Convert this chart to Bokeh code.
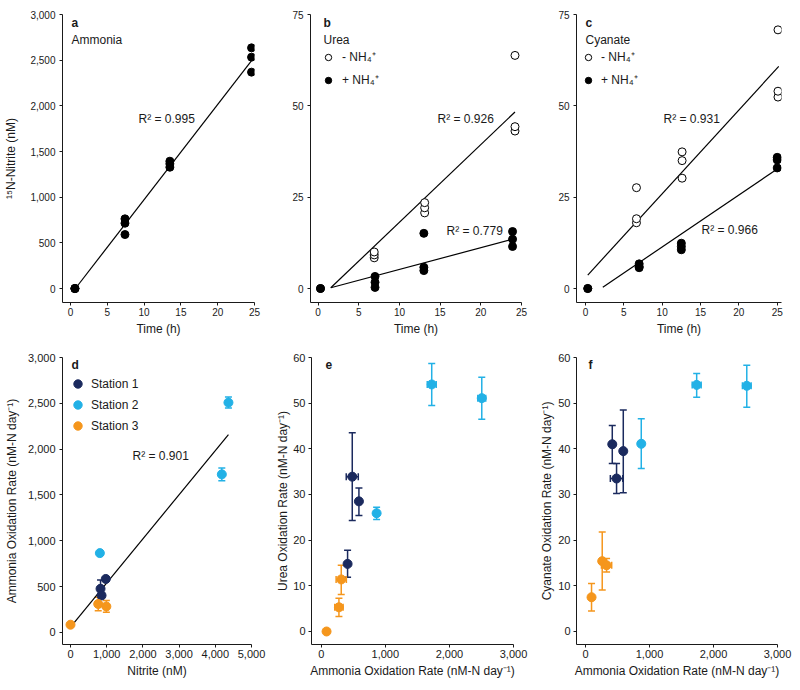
import numpy as np
from bokeh.plotting import figure
from bokeh.layouts import column, row
from bokeh.models import (Range1d, FixedTicker, NumeralTickFormatter, Label, Legend,
                          LegendItem, Whisker, TeeHead, ColumnDataSource)
from bokeh.embed import file_html
from bokeh.resources import INLINE

FONT = "Liberation Sans"
INK = "#1a1a1a"
C1, C2, C3 = "#1b2a5e", "#22b1e6", "#f5961c"

# ---------------- data ----------------
time_ticks = [0, 5, 10, 15, 20, 25]

# a: Ammonia
a_time = [0.6, 0.6, 0.6, 7.4, 7.4, 7.4, 13.5, 13.5, 13.5, 24.6, 24.6, 24.6]
a_nitrite = [0, 0, 0, 763, 715, 591, 1394, 1365, 1328, 2635, 2533, 2369]
a_fit = [104.2, -68.8, 0.9, 24.55]          # slope, intercept, x0, x1
a_r2 = "R² = 0.995"

# b: Urea
b_minus_t = [0.3, 6.9, 6.9, 6.9, 13.1, 13.1, 13.1, 24.2, 24.2, 24.2]
b_minus_v = [0, 8.4, 9.2, 10.0, 20.7, 22.1, 23.5, 43.1, 44.3, 63.8]
b_plus_t = [0.3, 7.0, 7.0, 7.0, 13.0, 13.0, 13.0, 23.9, 23.9, 23.9]
b_plus_v = [0, 0.3, 1.7, 3.3, 4.9, 5.8, 15.1, 11.5, 13.5, 15.6]
b_minus_fit = [2.125, -3.12, 1.56, 24.2]
b_plus_fit = [0.595, -0.73, 1.56, 23.9]
b_r2 = ["R² = 0.926", "R² = 0.779"]

# c: Cyanate
c_minus_t = [0.3, 6.65, 6.65, 6.65, 12.6, 12.6, 12.6, 25.1, 25.1, 25.1]
c_minus_v = [0, 18.0, 19.1, 27.6, 30.2, 35.0, 37.4, 52.4, 54.0, 70.8]
c_plus_t = [0.3, 7.0, 7.0, 7.0, 12.5, 12.5, 12.5, 25.0, 25.0, 25.0]
c_plus_v = [0, 5.7, 6.0, 6.75, 10.6, 11.5, 12.4, 33.0, 35.2, 35.9]
c_minus_fit = [2.293, 3.0, 0.3, 25.2]
c_plus_fit = [1.423, -2.86, 2.26, 25.2]
c_r2 = ["R² = 0.931", "R² = 0.966"]

stations = ["Station 1", "Station 2", "Station 3"]

# d: nitrite vs ammonia oxidation rate
d_x = [[830, 858, 975], [811, 4180, 4363], [0, 766, 990]]
d_y = [[477, 404, 584], [866, 1725, 2508], [85, 311, 284]]
d_yerr = [[95, 20, 20], [15, 70, 60], [0, 73, 64]]
d_fit = [0.4812, 59.4, 74, 4363]
d_r2 = "R² = 0.901"

# e: ammonia oxidation vs urea oxidation
e_x = [[484, 588, 411], [864, 1724, 2505], [83, 276, 312]]
e_xerr = [[94, 0, 0], [0, 70, 62], [0, 65, 80]]
e_y = [[33.9, 28.5, 14.8], [25.9, 54.1, 51.1], [0, 5.3, 11.4]]
e_ylo = [[24.3, 25.4, 11.9], [24.5, 49.5, 46.5], [0, 3.3, 8.1]]
e_yhi = [[43.5, 31.4, 17.8], [27.2, 58.7, 55.7], [0, 7.3, 14.5]]

# f: ammonia oxidation vs cyanate oxidation
f_x = [[418, 485, 590], [871, 1737, 2520], [94, 261, 329]]
f_xerr = [[0, 97, 0], [0, 70, 68], [0, 25, 80]]
f_y = [[41.0, 33.5, 39.5], [41.1, 54.0, 53.8], [7.5, 15.4, 14.5]]
f_ylo = [[36.8, 30.2, 30.4], [35.7, 51.3, 49.1], [4.5, 9.1, 13.0]]
f_yhi = [[45.1, 36.8, 48.5], [46.6, 56.5, 58.3], [10.5, 21.8, 16.0]]

colors = [C1, C2, C3]


# ---------------- helpers ----------------
def make_fig(w, h, xr, yr, mb):
    l, r, t, b = mb
    p = figure(width=w, height=h, x_range=Range1d(*xr), y_range=Range1d(*yr),
               output_backend="svg", toolbar_location=None,
               min_border_left=l, min_border_right=r, min_border_top=t, min_border_bottom=b,
               background_fill_color="white", border_fill_color="white")
    p.xgrid.visible = False
    p.ygrid.visible = False
    p.outline_line_color = None
    return p


def style(p, xticks, yticks, xlabel=None, ylabel=None, xcomma=False, ycomma=False,
          tick_size="10px", ystand=4, ylabstand=5):
    for ax in (p.xaxis[0], p.yaxis[0]):
        ax.axis_line_color = INK
        ax.axis_line_width = 1
        ax.major_tick_line_color = INK
        ax.major_tick_in = 0
        ax.major_tick_out = 3
        ax.minor_tick_line_color = None
        ax.major_label_text_font = FONT
        ax.major_label_text_font_size = tick_size
        ax.major_label_text_color = INK
        ax.axis_label_text_font = FONT
        ax.axis_label_text_font_size = "12px"
        ax.axis_label_text_font_style = "normal"
        ax.axis_label_text_color = INK
    p.xaxis[0].ticker = FixedTicker(ticks=xticks)
    p.yaxis[0].ticker = FixedTicker(ticks=yticks)
    p.xaxis[0].major_label_standoff = 2
    p.yaxis[0].major_label_standoff = ystand
    p.xaxis[0].axis_label_standoff = 3
    p.yaxis[0].axis_label_standoff = ylabstand
    if xcomma:
        p.xaxis[0].formatter = NumeralTickFormatter(format="0,0")
    if ycomma:
        p.yaxis[0].formatter = NumeralTickFormatter(format="0,0")
    if xlabel:
        p.xaxis[0].axis_label = xlabel
    if ylabel:
        p.yaxis[0].axis_label = ylabel


def note(p, sx, sy, text, bold=False):
    p.add_layout(Label(x=sx, y=sy, x_units="screen", y_units="screen", text=text,
                       text_font=FONT, text_font_size="12px",
                       text_font_style="bold" if bold else "normal",
                       text_color=INK, text_baseline="middle", text_align="left"))


def fit_line(p, fit):
    s, i, x0, x1 = fit
    xs = np.array([x0, x1])
    p.line(xs, s * xs + i, line_color="black", line_width=1.2)


def whiskers(p, base, lo, hi, color, dim):
    keep = [k for k in range(len(base)) if hi[k] - lo[k] > 0]
    if not keep:
        return
    src = ColumnDataSource(dict(base=[base[k] for k in keep], lower=[lo[k] for k in keep],
                                upper=[hi[k] for k in keep]))
    p.add_layout(Whisker(source=src, base="base", lower="lower", upper="upper",
                         dimension=dim, line_color=color, line_width=1.5, level="underlay",
                         upper_head=TeeHead(size=7, line_color=color, line_width=1.5),
                         lower_head=TeeHead(size=7, line_color=color, line_width=1.5)))


def nh4_legend(p, r_open, r_fill, loc, standoff):
    leg = Legend(items=[LegendItem(label="- NH₄⁺", renderers=[r_open]),
                        LegendItem(label="+ NH₄⁺", renderers=[r_fill])],
                 location=loc, orientation="vertical", glyph_width=16, glyph_height=16,
                 label_height=16, spacing=6, padding=0, margin=0, label_standoff=standoff,
                 border_line_color=None, background_fill_alpha=0,
                 label_text_font=FONT, label_text_font_size="12px", label_text_color=INK)
    p.add_layout(leg)


# ---------------- panel a ----------------
pa = make_fig(270, 340, (-1.09, 25), (-153, 3000), (62, 16, 14, 38))
style(pa, time_ticks, [0, 500, 1000, 1500, 2000, 2500, 3000], "Time (h)",
      "¹⁵N-Nitrite (nM)", ycomma=True, ylabstand=9)
fit_line(pa, a_fit)
pa.scatter(a_time, a_nitrite, size=8, fill_color="black", line_color="black")
note(pa, 9, 280, "a", bold=True)
note(pa, 9, 263, "Ammonia")
note(pa, 76, 184, a_r2)

# ---------------- panel b ----------------
pb = make_fig(260, 340, (-0.93, 25), (-3.83, 75), (40, 9, 14, 38))
style(pb, time_ticks, [0, 25, 50, 75], "Time (h)")
fit_line(pb, b_minus_fit)
fit_line(pb, b_plus_fit)
rbo = pb.scatter(b_minus_t, b_minus_v, size=8, fill_color="white", line_color="black", line_width=1)
rbf = pb.scatter(b_plus_t, b_plus_v, size=8, fill_color="black", line_color="black")
note(pb, 13, 280, "b", bold=True)
note(pb, 13, 263, "Urea")
note(pb, 127, 184, b_r2[0])
note(pb, 136, 72, b_r2[1])
nh4_legend(pb, rbo, rbf, (10, 214), 6)

# ---------------- panel c ----------------
pc = make_fig(268, 340, (-1.17, 25.56), (-3.83, 75), (46, 17, 14, 38))
style(pc, time_ticks, [0, 25, 50, 75], "Time (h)")
fit_line(pc, c_minus_fit)
fit_line(pc, c_plus_fit)
rco = pc.scatter(c_minus_t, c_minus_v, size=8, fill_color="white", line_color="black", line_width=1)
rcf = pc.scatter(c_plus_t, c_plus_v, size=8, fill_color="black", line_color="black")
note(pc, 9, 280, "c", bold=True)
note(pc, 9, 263, "Cyanate")
note(pc, 87, 184, c_r2[0])
note(pc, 125, 73, c_r2[1])
nh4_legend(pc, rco, rcf, (4, 214), 5)

# ---------------- panel d ----------------
pd_ = make_fig(267, 348, (-221, 5000), (-131, 3000), (62, 16, 17, 44))
style(pd_, [0, 1000, 2000, 3000, 4000, 5000], [0, 500, 1000, 1500, 2000, 2500, 3000],
      "Nitrite (nM)", "Ammonia Oxidation Rate (nM-N day⁻¹)", xcomma=True, ycomma=True,
      tick_size="11px", ylabstand=6)
fit_line(pd_, d_fit)
d_items = []
for k in range(3):
    lo = [y - e for y, e in zip(d_y[k], d_yerr[k])]
    hi = [y + e for y, e in zip(d_y[k], d_yerr[k])]
    whiskers(pd_, d_x[k], lo, hi, colors[k], "height")
for k in range(3):
    r = pd_.scatter(d_x[k], d_y[k], size=9, fill_color=colors[k], line_color=colors[k])
    d_items.append(LegendItem(label=stations[k], renderers=[r]))
pd_.add_layout(Legend(items=d_items, location=(5, 208), glyph_width=21, glyph_height=21,
                      label_height=21, spacing=0, padding=0, margin=0, label_standoff=3,
                      border_line_color=None, background_fill_alpha=0,
                      label_text_font=FONT, label_text_font_size="12px", label_text_color=INK))
note(pd_, 9, 280, "d", bold=True)
note(pd_, 70, 189, d_r2)


# ---------------- panels e, f ----------------
def rate_panel(w, xr, mb, xs, xerrs, ys, ylos, yhis, ylabel, letter, lx, ystand, ylabstand):
    p = make_fig(w, 348, xr, (-2.85, 60), mb)
    style(p, [0, 1000, 2000, 3000], [0, 10, 20, 30, 40, 50, 60],
          "Ammonia Oxidation Rate (nM-N day⁻¹)", ylabel, xcomma=True, tick_size="11px",
          ystand=ystand, ylabstand=ylabstand)
    for k in range(3):
        whiskers(p, xs[k], ylos[k], yhis[k], colors[k], "height")
        xlo = [x - e for x, e in zip(xs[k], xerrs[k])]
        xhi = [x + e for x, e in zip(xs[k], xerrs[k])]
        whiskers(p, ys[k], xlo, xhi, colors[k], "width")
    for k in range(3):
        p.scatter(xs[k], ys[k], size=9, fill_color=colors[k], line_color=colors[k])
    note(p, lx, 280, letter, bold=True)
    return p


pe = rate_panel(261, (-152, 3000), (44, 15, 17, 44), e_x, e_xerr, e_y, e_ylo, e_yhi,
                "Urea Oxidation Rate (nM-N day⁻¹)", "e", 14, 3, 0)
pf = rate_panel(270, (-141, 3000), (48, 21, 17, 44), f_x, f_xerr, f_y, f_ylo, f_yhi,
                "Cyanate Oxidation Rate (nM-N day⁻¹)", "f", 12, 3, 1)

layout = column(row(pa, pb, pc), row(pd_, pe, pf))
open("out.html", "w").write(file_html(layout, INLINE))
